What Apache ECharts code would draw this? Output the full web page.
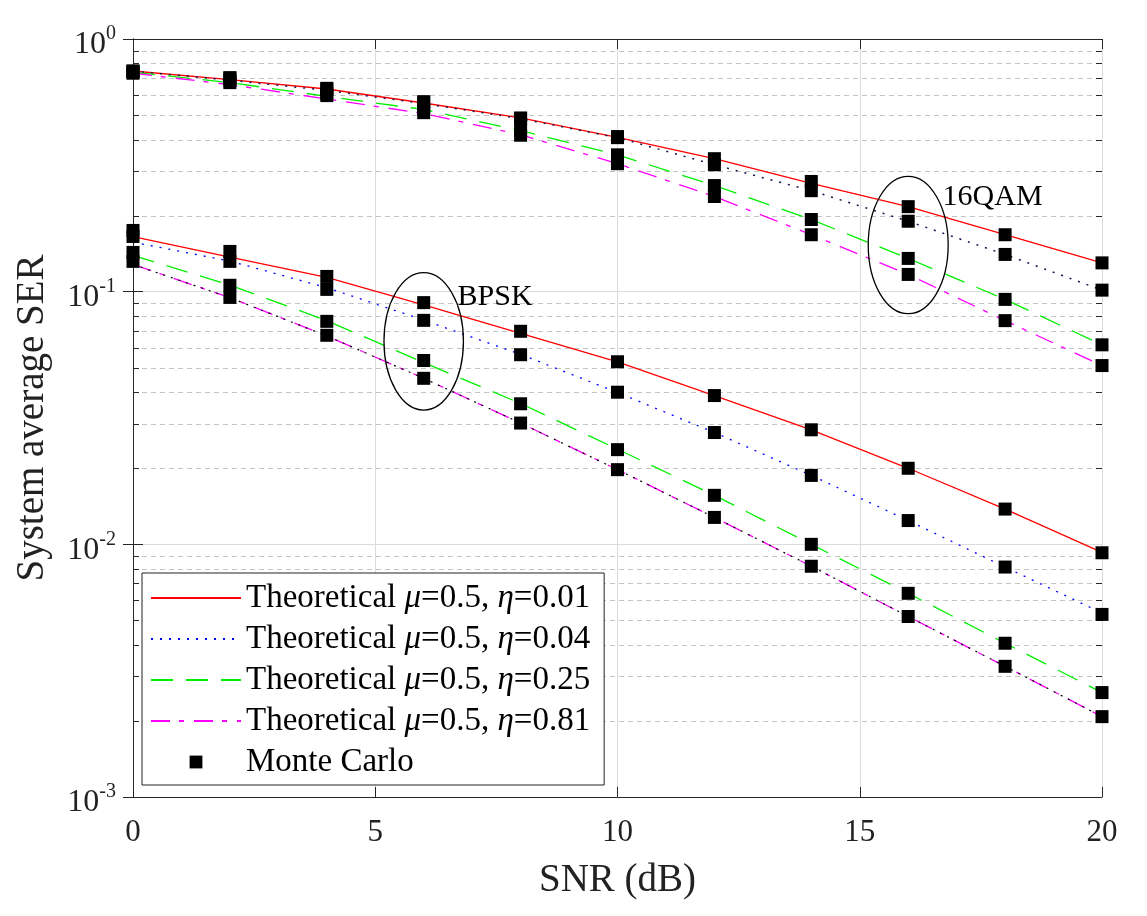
<!DOCTYPE html>
<html><head><meta charset="utf-8">
<script src="https://cdn.jsdelivr.net/npm/echarts@6/dist/echarts.min.js"></script>
<style>html,body{margin:0;padding:0;background:#fff}#c{width:1147px;height:916px}</style>
</head><body><div id="c"></div>
<script>
const snr = [0, 2, 4, 6, 8, 10, 12, 14, 16, 18, 20];

// Theoretical curves (BPSK group)
const bpskTheoryEta001 = [0.165, 0.137, 0.1139, 0.0887, 0.0684, 0.0527, 0.0388, 0.0284, 0.0200, 0.01379, 0.0093];
const bpskTheoryEta004 = [0.157, 0.1321, 0.1037, 0.0772, 0.0565, 0.0399, 0.0277, 0.01874, 0.01242, 0.00813, 0.00535];
const bpskTheoryEta025 = [0.1391, 0.1062, 0.0768, 0.0524, 0.0361, 0.0238, 0.01563, 0.0100, 0.0064, 0.00406, 0.00259];
const bpskTheoryEta081 = [0.1282, 0.0947, 0.0668, 0.0454, 0.0302, 0.01975, 0.01278, 0.00819, 0.00518, 0.00329, 0.00208];

// Theoretical curves (16QAM group)
const qamTheoryEta001 = [0.747, 0.690, 0.634, 0.558, 0.487, 0.408, 0.336, 0.268, 0.217, 0.168, 0.130];
const qamTheoryEta004 = [0.746, 0.687, 0.626, 0.555, 0.484, 0.407, 0.318, 0.251, 0.190, 0.1404, 0.1014];
const qamTheoryEta025 = [0.739, 0.672, 0.593, 0.526, 0.434, 0.348, 0.263, 0.193, 0.1354, 0.0932, 0.0616];
const qamTheoryEta081 = [0.732, 0.660, 0.579, 0.507, 0.418, 0.321, 0.238, 0.168, 0.117, 0.0768, 0.0510];

// Monte Carlo points
const bpskMcEta001 = [0.1747, 0.1443, 0.1149, 0.0905, 0.0697, 0.0528, 0.0388, 0.0284, 0.0200, 0.01379, 0.00926];
const bpskMcEta004 = [0.1654, 0.1318, 0.1021, 0.0770, 0.0563, 0.0400, 0.0277, 0.01874, 0.01242, 0.00813, 0.00528];
const bpskMcEta025 = [0.1430, 0.1060, 0.0763, 0.0534, 0.0360, 0.0237, 0.01563, 0.0100, 0.0064, 0.00406, 0.00259];
const bpskMcEta081 = [0.1318, 0.0949, 0.0672, 0.0454, 0.0302, 0.01975, 0.01278, 0.00819, 0.00518, 0.00329, 0.00208];
const qamMcEta001 = [0.747, 0.703, 0.638, 0.565, 0.487, 0.411, 0.336, 0.273, 0.217, 0.168, 0.130];
const qamMcEta004 = [0.746, 0.700, 0.633, 0.560, 0.484, 0.407, 0.318, 0.251, 0.190, 0.1404, 0.1014];
const qamMcEta025 = [0.739, 0.684, 0.608, 0.530, 0.434, 0.348, 0.263, 0.193, 0.1354, 0.0932, 0.0616];
const qamMcEta081 = [0.732, 0.672, 0.597, 0.511, 0.416, 0.321, 0.238, 0.168, 0.117, 0.0768, 0.0510];

// Axis ticks
const xTicks = [0, 5, 10, 15, 20];
const yMinorTicks = [0.002,0.003,0.004,0.005,0.006,0.007,0.008,0.009,
                     0.02,0.03,0.04,0.05,0.06,0.07,0.08,0.09,
                     0.2,0.3,0.4,0.5,0.6,0.7,0.8,0.9];

// Annotations: [xCenter, xHalfWidth, yTop, yBottom]
const ellipses = [[6, 0.82, 0.1189, 0.0340], [16, 0.825, 0.286, 0.0818]];
const annotLabels = [[6.70, 0.0950, 'BPSK'], [16.71, 0.237, '16QAM']];

const names = ['Theoretical η=0.01', 'Theoretical η=0.04', 'Theoretical η=0.25', 'Theoretical η=0.81', 'Monte Carlo'];
const legendText = {
  'Theoretical η=0.01': 'Theoretical {i|μ}=0.5, {i|η}=0.01',
  'Theoretical η=0.04': 'Theoretical {i|μ}=0.5, {i|η}=0.04',
  'Theoretical η=0.25': 'Theoretical {i|μ}=0.5, {i|η}=0.25',
  'Theoretical η=0.81': 'Theoretical {i|μ}=0.5, {i|η}=0.81',
  'Monte Carlo': 'Monte Carlo'
};

const FONT = 'Liberation Serif';
const pairs = arr => snr.map((x, i) => [x, arr[i]]);
const xMin = xTicks[0], xMax = xTicks[xTicks.length - 1];

function theory(name, arr, color, type, width) {
  return { type: 'line', name, data: pairs(arr), symbol: 'none', showSymbol: false,
    lineStyle: { color, width: width || 1.3, type }, itemStyle: { color }, z: 3, silent: true };
}
function mc(arr) {
  return { type: 'line', name: 'Monte Carlo', data: pairs(arr), symbol: 'rect', symbolSize: 13,
    showSymbol: true, lineStyle: { width: 0, opacity: 0 }, itemStyle: { color: '#000', opacity: 1 }, z: 5, silent: true };
}

const series = [
  theory(names[0], bpskTheoryEta001, '#ff0000', 'solid'),
  theory(names[1], bpskTheoryEta004, '#0000ff', [2, 7]),
  theory(names[2], bpskTheoryEta025, '#00ee00', [22, 13]),
  theory(names[3], bpskTheoryEta081, '#ff00ff', [19, 9, 5, 10]),
  theory('overlay', bpskTheoryEta081, '#000000', [2, 6], 1.2),
  theory(names[0], qamTheoryEta001, '#ff0000', 'solid'),
  theory(names[1], qamTheoryEta004, '#141450', [2, 7], 1.5),
  theory(names[2], qamTheoryEta025, '#00ee00', [22, 13]),
  theory(names[3], qamTheoryEta081, '#ff00ff', [19, 9, 5, 10]),
  mc(bpskMcEta001), mc(bpskMcEta004), mc(bpskMcEta025), mc(bpskMcEta081),
  mc(qamMcEta001), mc(qamMcEta004), mc(qamMcEta025), mc(qamMcEta081),
  { // minor grid lines and ticks for the log axis
    type: 'custom', name: 'minor', silent: true, z: 1,
    data: yMinorTicks.map(v => [xMin, v]),
    renderItem: function (params, api) {
      const v = api.value(1);
      const p0 = api.coord([xMin, v]), p1 = api.coord([xMax, v]);
      const y = Math.round(p0[1]) + 0.5;
      return { type: 'group', children: [
        { type: 'line', shape: { x1: p0[0] + 9, y1: y, x2: p1[0] - 9, y2: y },
          style: { stroke: '#c4c4c4', lineWidth: 1, lineDash: [5, 4] } },
        { type: 'line', shape: { x1: p0[0], y1: y, x2: p0[0] + 6, y2: y }, style: { stroke: '#262626', lineWidth: 1 } },
        { type: 'line', shape: { x1: p1[0] - 6, y1: y, x2: p1[0], y2: y }, style: { stroke: '#262626', lineWidth: 1 } }
      ] };
    }
  },
  { // ellipses
    type: 'custom', name: 'ellipse', silent: true, z: 4,
    data: ellipses,
    renderItem: function (params, api) {
      const xc = api.value(0), hw = api.value(1), yt = api.value(2), yb = api.value(3);
      const pt = api.coord([xc, yt]), pb = api.coord([xc, yb]), pr = api.coord([xc + hw, yt]);
      return { type: 'ellipse', shape: { cx: pt[0], cy: (pt[1] + pb[1]) / 2, rx: pr[0] - pt[0], ry: (pb[1] - pt[1]) / 2 },
        style: { fill: 'none', stroke: '#000', lineWidth: 1.3 } };
    }
  },
  { // annotation texts
    type: 'custom', name: 'annot', silent: true, z: 6,
    data: annotLabels,
    renderItem: function (params, api) {
      const p = api.coord([api.value(0), api.value(1)]);
      return { type: 'text', x: p[0], y: p[1],
        style: { text: annotLabels[params.dataIndex][2], fontFamily: FONT, fontSize: 30, fill: '#000',
          textAlign: 'left', textVerticalAlign: 'middle' } };
    }
  }
];

const chart = echarts.init(document.getElementById('c'), null, { renderer: 'canvas' });
chart.setOption({
  animation: false,
  backgroundColor: '#fff',
  grid: { left: 133, right: 45, top: 39, bottom: 119 },
  xAxis: [{
    type: 'value', min: xMin, max: xMax, interval: 5,
    name: 'SNR (dB)', nameLocation: 'middle', nameGap: 63,
    nameTextStyle: { fontFamily: FONT, fontSize: 39, color: '#222', lineHeight: 42 },
    axisLine: { show: true, lineStyle: { color: '#262626', width: 1 } },
    axisTick: { show: true, inside: true, length: 10, lineStyle: { color: '#262626' } },
    axisLabel: { fontFamily: FONT, fontSize: 31, color: '#222', margin: 20, lineHeight: 32 },
    splitLine: { show: true, lineStyle: { color: '#dcdcdc', width: 1 } }
  }, {
    type: 'value', min: xMin, max: xMax, interval: 5, position: 'top',
    axisLine: { show: true, lineStyle: { color: '#262626', width: 1 } },
    axisTick: { show: true, inside: true, length: 10, lineStyle: { color: '#262626' } },
    axisLabel: { show: false }, splitLine: { show: false }
  }],
  yAxis: [{
    type: 'log', logBase: 10, min: 0.001, max: 1,
    name: 'System average SER', nameLocation: 'middle', nameGap: 79,
    nameTextStyle: { fontFamily: FONT, fontSize: 39, color: '#222', lineHeight: 42 },
    axisLine: { show: true, lineStyle: { color: '#262626', width: 1 } },
    axisTick: { show: true, inside: true, length: 10, lineStyle: { color: '#262626' } },
    axisLabel: {
      margin: 17,
      formatter: v => '{b|10}{s|' + Math.round(Math.log10(v)) + '}',
      rich: {
        b: { fontFamily: FONT, fontSize: 32, lineHeight: 32, padding: [12, 0, 0, 0], color: '#222' },
        s: { fontFamily: FONT, fontSize: 20, lineHeight: 20, padding: [7, 0, 17, 0], color: '#222' }
      }
    },
    splitLine: { show: true, lineStyle: { color: '#dcdcdc', width: 1 } },
    minorTick: { show: false }, minorSplitLine: { show: false }
  }, {
    type: 'log', logBase: 10, min: 0.001, max: 1, position: 'right',
    axisLine: { show: true, lineStyle: { color: '#262626', width: 1 } },
    axisTick: { show: true, inside: true, length: 10, lineStyle: { color: '#262626' } },
    axisLabel: { show: false }, splitLine: { show: false }
  }],
  legend: {
    orient: 'vertical', left: 142, top: 573,
    data: names.map(n => n === 'Monte Carlo' ? { name: n, lineStyle: { opacity: 0 } } : { name: n, itemStyle: { opacity: 0 } }),
    itemWidth: 90, itemHeight: 16, itemGap: 5,
    padding: [7, 14, 5, 8],
    borderColor: '#222', borderWidth: 1, backgroundColor: '#fff',
    selectedMode: false,
    formatter: n => legendText[n],
    textStyle: { fontFamily: FONT, fontSize: 33, color: '#000', lineHeight: 36,
      rich: { i: { fontFamily: FONT, fontSize: 33, fontStyle: 'italic', color: '#000', lineHeight: 36 } } }
  },
  series: series
});
</script></body></html>
